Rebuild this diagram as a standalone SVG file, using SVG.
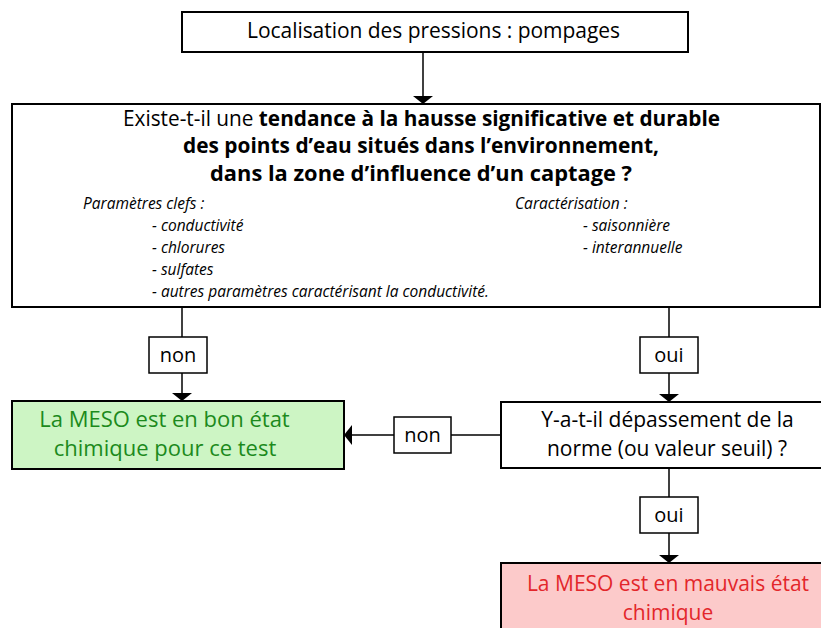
<svg xmlns="http://www.w3.org/2000/svg" width="821" height="628" viewBox="0 0 821 628">
<defs>
<marker id="ah" markerWidth="22" markerHeight="22" refX="8" refY="11" orient="auto" markerUnits="userSpaceOnUse">
<path d="M0,1 L8,11 L0,21 Z" fill="#000"/>
</marker>
<style>
.box{fill:#fff;stroke:#000;stroke-width:2}
.lbl{fill:#fff;stroke:#000;stroke-width:1.5}
.t{font-family:"Open Sans","Liberation Sans",sans-serif;font-size:21px;fill:#000;text-anchor:middle}
.b{font-weight:bold}
.i{font-family:"Open Sans","Liberation Sans",sans-serif;font-size:15.5px;font-style:italic;fill:#000}
.c{stroke:#000;stroke-width:1.5;fill:none;marker-end:url(#ah)}
</style>
</defs>
<rect width="821" height="628" fill="#fff"/>
<g id="connectors">
<line class="c" x1="423" y1="52" x2="423" y2="104"/>
<line class="c" x1="182" y1="307" x2="182" y2="401"/>
<line class="c" x1="669" y1="307" x2="669" y2="402"/>
<line class="c" x1="501" y1="435" x2="344" y2="435"/>
<line class="c" x1="669" y1="468" x2="669" y2="563"/>
</g>
<g id="n1">
<rect class="box" x="182" y="12" width="506" height="40"/>
<text class="t" x="433.5" y="38" textLength="373">Localisation des pressions : pompages</text>
</g>
<g id="n2">
<rect class="box" x="12" y="104" width="808" height="203"/>
<text class="t" x="421.5" y="126" textLength="597" lengthAdjust="spacingAndGlyphs">Existe-t-il une <tspan class="b">tendance à la hausse significative et durable</tspan></text>
<text class="t b" x="421" y="153" textLength="476" lengthAdjust="spacingAndGlyphs">des points d’eau situés dans l’environnement,</text>
<text class="t b" x="421" y="181" textLength="422" lengthAdjust="spacingAndGlyphs">dans la zone d’influence d’un captage ?</text>
<text class="i" x="83" y="209">Paramètres clefs :</text>
<text class="i" x="152" y="231">- conductivité</text>
<text class="i" x="152" y="253">- chlorures</text>
<text class="i" x="152" y="275">- sulfates</text>
<text class="i" x="152" y="297">- autres paramètres caractérisant la conductivité.</text>
<text class="i" x="515" y="209">Caractérisation :</text>
<text class="i" x="583" y="231">- saisonnière</text>
<text class="i" x="583" y="253">- interannuelle</text>
</g>
<g id="lbl-non1">
<rect class="lbl" x="149" y="337" width="58" height="36"/>
<text class="t" x="178" y="362" style="font-size:20px">non</text>
</g>
<g id="lbl-oui1">
<rect class="lbl" x="640" y="337" width="58" height="36"/>
<text class="t" x="669" y="362" style="font-size:20px">oui</text>
</g>
<g id="n3">
<rect x="12" y="401" width="332" height="68" fill="#cdf5c4" stroke="#000" stroke-width="2"/>
<text class="t" x="164.5" y="427" style="fill:#1c8a1c;font-size:22px">La MESO est en bon état</text>
<text class="t" x="165" y="456" style="fill:#1c8a1c;font-size:22px">chimique pour ce test</text>
</g>
<g id="n4">
<rect class="box" x="501" y="402" width="330" height="66"/>
<text class="t" x="667.5" y="427">Y-a-t-il dépassement de la</text>
<text class="t" x="667" y="456">norme (ou valeur seuil) ?</text>
</g>
<g id="lbl-non2">
<rect class="lbl" x="394" y="417" width="57" height="36"/>
<text class="t" x="422.5" y="442" style="font-size:20px">non</text>
</g>
<g id="lbl-oui2">
<rect class="lbl" x="640" y="497" width="58" height="36"/>
<text class="t" x="669" y="522" style="font-size:20px">oui</text>
</g>
<g id="n5">
<rect x="501" y="563" width="330" height="70" fill="#fccaca" stroke="#000" stroke-width="2"/>
<text class="t" x="668" y="591" style="fill:#e3262a">La MESO est en mauvais état</text>
<text class="t" x="668" y="620" style="fill:#e3262a">chimique</text>
</g>
</svg>
